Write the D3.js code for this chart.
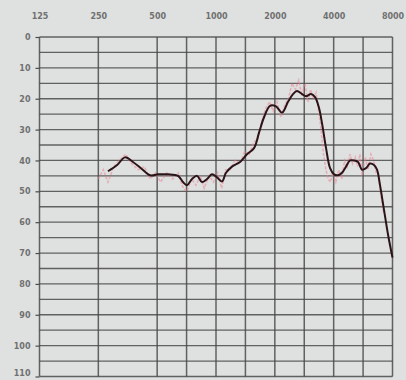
<!DOCTYPE html>
<html>
<head>
<meta charset="utf-8">
<script src="https://cdn.jsdelivr.net/npm/d3@7"></script>
<style>
  html, body { margin: 0; padding: 0; background: #dfe1e0; }
  svg { display: block; }
  .lbl { font-family: "DejaVu Sans", sans-serif; font-size: 8px; font-weight: bold; fill: #707070; }
</style>
</head>
<body>
<div id="chart"></div>
<script>
// Audiogram axes
const freqLabels = [125, 250, 500, 1000, 2000, 4000, 8000];
// vertical grid positions, in octaves above 125 Hz (half-octave lines included)
const gridOctaves = [0, 1, 2, 2.5, 3, 3.5, 4, 4.5, 5, 5.5, 6];
const dbTicks = [0, 10, 20, 30, 40, 50, 60, 70, 80, 90, 100, 110];
const dbGrid = d3.range(0, 111, 5);

// Smoothed hearing threshold curve
const curveFreq = [280, 312, 342, 376, 413, 460, 505, 568, 639, 678, 710, 754, 800, 848, 900, 954, 1012, 1073, 1125, 1207, 1327, 1441, 1565, 1660, 1761, 1890, 2028, 2176, 2336, 2478, 2597, 2756, 2889, 3064, 3212, 3366, 3488, 3657, 3834, 4017, 4211, 4414, 4627, 4851, 5085, 5330, 5587, 5857, 6140, 6436, 6666, 6905, 7238, 7588, 8000];
const curveDb = [43.5, 41.5, 39, 40.5, 42.5, 44.8, 44.5, 44.5, 45, 47, 48, 46, 45, 47, 46, 44.5, 45.5, 46.8, 44, 42, 40.5, 38, 36, 31, 26, 22.3, 22.5, 24.5, 21, 18.5, 17.5, 18.5, 19.2, 18.5, 19.5, 23, 28, 36, 42.5, 44.5, 44.8, 44, 42, 40, 40, 40.5, 43, 42.5, 41, 41.5, 43, 48, 56, 64, 71.5];

// Raw measured trace
const rawFreq = [250, 265, 280, 300, 320, 345, 370, 400, 430, 460, 490, 520, 560, 600, 640, 680, 710, 750, 790, 830, 870, 920, 970, 1020, 1070, 1120, 1180, 1250, 1330, 1400, 1480, 1560, 1640, 1720, 1800, 1880, 1960, 2050, 2150, 2250, 2350, 2450, 2550, 2650, 2750, 2850, 2950, 3050, 3150, 3250, 3350, 3450, 3550, 3650, 3750, 3850, 3950, 4100, 4250, 4400, 4550, 4700, 4850, 5000, 5150, 5300, 5450, 5600, 5800, 6000, 6200, 6400, 6600, 6800, 7000, 7200];
const rawDb = [46, 43, 47, 42, 40, 38, 41, 43, 42, 46, 44, 47, 44, 46, 44, 49, 50, 46, 48, 45, 49, 45, 47, 44, 49, 43, 43, 40, 41, 37, 38, 34, 33, 27, 23, 21, 24, 21, 26, 22, 20, 15, 17, 14, 19, 15, 21, 17, 20, 18, 24, 30, 38, 43, 46, 47, 44, 47, 43, 46, 40, 42, 38, 41, 39, 42, 38, 45, 39, 43, 38, 40, 44, 45, 52, 57];

const W = 406, H = 380;
const svg = d3.select("#chart").append("svg").attr("width", W).attr("height", H);

const x = d3.scaleLinear().domain([0, 6]).range([39.5, 392.5]);
const fx = f => x(Math.log2(f / 125));
const y = d3.scaleLinear().domain([0, 110]).range([37, 376.5]);

svg.append("rect").attr("width", W).attr("height", H).attr("fill", "#dfe1e0");

const grid = svg.append("g").attr("stroke", "#4a4a4a").attr("stroke-opacity", 0.85);
grid.selectAll("line.h").data(dbGrid).join("line")
  .attr("x1", x(0)).attr("x2", x(6))
  .attr("y1", d => y(d)).attr("y2", d => y(d))
  .attr("stroke-width", 1.3);
grid.selectAll("line.v").data(gridOctaves).join("line")
  .attr("x1", d => x(d)).attr("x2", d => x(d))
  .attr("y1", y(0)).attr("y2", y(110))
  .attr("stroke-width", 1.5);

// left dB axis
const yAxis = d3.axisLeft(y).tickValues(dbTicks).tickSize(4).tickPadding(5);
const ya = svg.append("g").attr("transform", `translate(${x(0)},0)`).call(yAxis);
ya.select(".domain").remove();
ya.selectAll(".tick line").attr("stroke", "#4a4a4a").attr("stroke-width", 1.2);
ya.selectAll(".tick text").attr("class", "lbl").attr("fill", null)
  .attr("dy", d => d === 110 ? "-0.1em" : "0.32em");

// top frequency axis
const xAxis = d3.axisTop(x).tickValues(freqLabels.map(f => Math.log2(f / 125)))
  .tickFormat((d, i) => freqLabels[i]).tickSize(0).tickPadding(0);
const xa = svg.append("g").attr("transform", "translate(0,19)").call(xAxis);
xa.select(".domain").remove();
xa.selectAll(".tick text").attr("class", "lbl").attr("fill", null);

// raw trace
const rawLine = d3.line().x((d, i) => fx(rawFreq[i])).y(d => y(d)).curve(d3.curveLinear);
svg.append("path").datum(rawDb).attr("d", rawLine)
  .attr("fill", "none").attr("stroke", "#ea8596").attr("stroke-opacity", 0.55)
  .attr("stroke-width", 1.6).attr("stroke-dasharray", "3,1.5");

// smoothed curve
const smooth = d3.line().x((d, i) => fx(curveFreq[i])).y(d => y(d)).curve(d3.curveCatmullRom);
svg.append("path").datum(curveDb).attr("d", smooth)
  .attr("fill", "none").attr("stroke", "#2b1418").attr("stroke-width", 2)
  .attr("stroke-linejoin", "round");
</script>
</body>
</html>
